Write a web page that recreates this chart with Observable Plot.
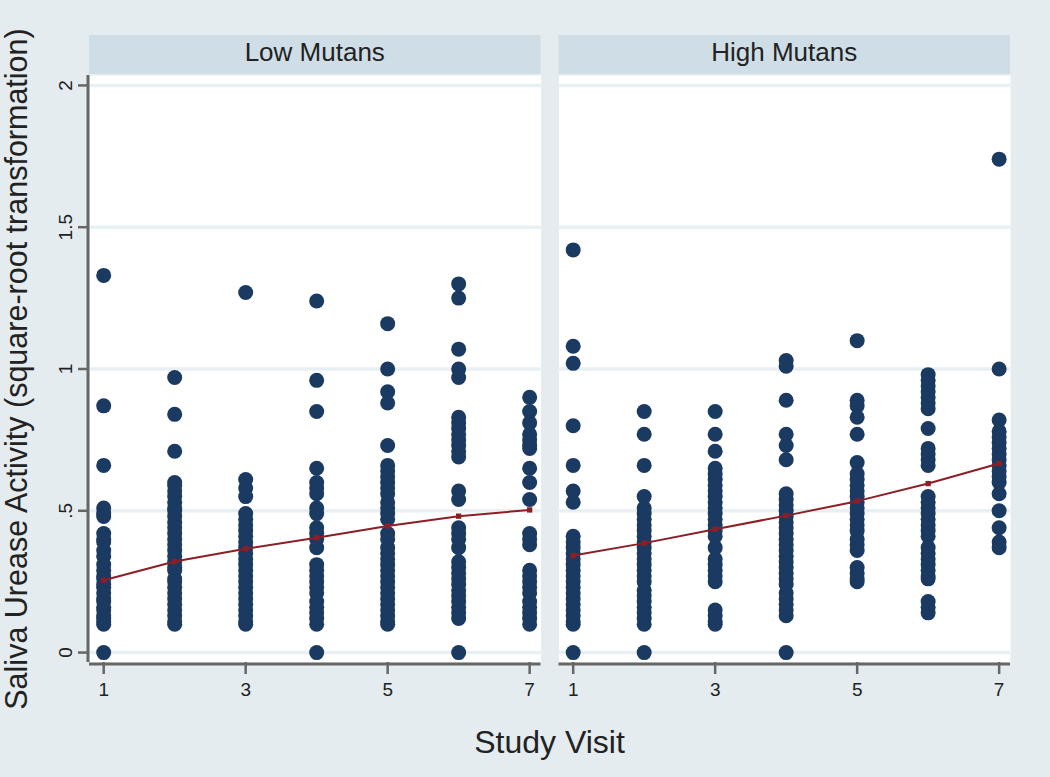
<!DOCTYPE html>
<html><head><meta charset="utf-8">
<script src="https://cdn.jsdelivr.net/npm/d3@7"></script>
<script src="https://cdn.jsdelivr.net/npm/@observablehq/plot@0.6"></script>
<style>
html,body{margin:0;padding:0;background:#e4ecef;}
#wrap{position:relative;width:1050px;height:777px;overflow:hidden;font-family:"Liberation Sans",Arial,sans-serif;}
#xlabel{position:absolute;left:89px;width:921px;top:722px;text-align:center;font-size:32px;color:#222;line-height:40px;}
</style></head><body><div id="wrap"><div id="xlabel">Study Visit</div></div>
<script>
const groups = ["Low Mutans", "High Mutans"];
const visits = [1, 2, 3, 4, 5, 6, 7];
const xTicks = [1, 3, 5, 7];
const yTicks = [0, 0.5, 1, 1.5, 2];
const yTitle = "Saliva Urease Activity (square-root transformation)";
const xTitle = "Study Visit";

const lowMutansValues = [
  [1.33, 0.87, 0.66, 0.51, 0.49, 0.48, 0.42, 0.40, 0.39, 0.36, 0.34, 0.31, 0.29, 0.27, 0.26, 0.24, 0.23, 0.21, 0.19, 0.18, 0.16, 0.15, 0.13, 0.12, 0.11, 0.10, 0],
  [0.97, 0.84, 0.71, 0.60, 0.59, 0.57, 0.55, 0.53, 0.51, 0.50, 0.48, 0.46, 0.44, 0.42, 0.40, 0.38, 0.36, 0.34, 0.32, 0.30, 0.29, 0.26, 0.25, 0.23, 0.21, 0.19, 0.17, 0.15, 0.13, 0.11, 0.10],
  [1.27, 0.61, 0.58, 0.55, 0.49, 0.47, 0.45, 0.43, 0.41, 0.39, 0.37, 0.35, 0.33, 0.31, 0.29, 0.27, 0.25, 0.23, 0.21, 0.19, 0.17, 0.15, 0.13, 0.11, 0.10],
  [1.24, 0.96, 0.85, 0.65, 0.60, 0.58, 0.56, 0.51, 0.49, 0.44, 0.42, 0.40, 0.37, 0.31, 0.29, 0.27, 0.25, 0.23, 0.21, 0.18, 0.16, 0.14, 0.12, 0.10, 0],
  [1.16, 1.00, 0.92, 0.88, 0.73, 0.66, 0.64, 0.62, 0.60, 0.58, 0.56, 0.53, 0.51, 0.49, 0.47, 0.42, 0.40, 0.37, 0.35, 0.33, 0.31, 0.29, 0.27, 0.25, 0.23, 0.21, 0.19, 0.17, 0.15, 0.13, 0.11, 0.10],
  [1.30, 1.25, 1.07, 1.00, 0.97, 0.83, 0.81, 0.79, 0.77, 0.75, 0.73, 0.71, 0.69, 0.57, 0.54, 0.44, 0.42, 0.40, 0.37, 0.32, 0.30, 0.28, 0.26, 0.24, 0.22, 0.20, 0.18, 0.16, 0.14, 0.12, 0],
  [0.90, 0.85, 0.81, 0.77, 0.75, 0.73, 0.72, 0.65, 0.60, 0.54, 0.42, 0.40, 0.38, 0.29, 0.27, 0.25, 0.23, 0.21, 0.18, 0.16, 0.14, 0.12, 0.10]
];
const highMutansValues = [
  [1.42, 1.08, 1.02, 0.80, 0.66, 0.57, 0.53, 0.41, 0.39, 0.37, 0.35, 0.33, 0.31, 0.29, 0.27, 0.25, 0.23, 0.21, 0.19, 0.17, 0.15, 0.13, 0.11, 0.10, 0],
  [0.85, 0.77, 0.66, 0.55, 0.51, 0.49, 0.47, 0.45, 0.43, 0.41, 0.39, 0.37, 0.35, 0.33, 0.31, 0.29, 0.27, 0.25, 0.22, 0.20, 0.18, 0.16, 0.14, 0.12, 0.10, 0],
  [0.85, 0.77, 0.71, 0.65, 0.63, 0.61, 0.59, 0.57, 0.55, 0.53, 0.51, 0.49, 0.47, 0.45, 0.43, 0.41, 0.37, 0.33, 0.31, 0.29, 0.27, 0.25, 0.15, 0.13, 0.11, 0.10],
  [1.03, 1.01, 0.89, 0.77, 0.73, 0.68, 0.56, 0.54, 0.52, 0.50, 0.48, 0.46, 0.44, 0.42, 0.40, 0.38, 0.36, 0.34, 0.32, 0.30, 0.28, 0.26, 0.24, 0.21, 0.19, 0.17, 0.15, 0.13, 0],
  [1.10, 0.89, 0.87, 0.83, 0.77, 0.67, 0.63, 0.61, 0.59, 0.57, 0.55, 0.53, 0.51, 0.49, 0.47, 0.45, 0.43, 0.40, 0.38, 0.36, 0.30, 0.28, 0.26, 0.25],
  [0.98, 0.96, 0.94, 0.92, 0.90, 0.88, 0.86, 0.79, 0.72, 0.70, 0.68, 0.66, 0.55, 0.53, 0.51, 0.49, 0.47, 0.45, 0.43, 0.41, 0.37, 0.35, 0.33, 0.31, 0.29, 0.27, 0.26, 0.18, 0.16, 0.14],
  [1.74, 1.00, 0.82, 0.78, 0.76, 0.74, 0.72, 0.70, 0.68, 0.66, 0.64, 0.62, 0.60, 0.56, 0.50, 0.44, 0.39, 0.37]
];
const lowMutansFit = [0.255, 0.321, 0.366, 0.405, 0.446, 0.481, 0.503];
const highMutansFit = [0.342, 0.386, 0.435, 0.483, 0.534, 0.596, 0.667];

const xDomain = [0.8, 7.16];
const yDomain = [-0.035, 2.035];

const seriesValues = [lowMutansValues, highMutansValues];
const seriesFit = [lowMutansFit, highMutansFit];
const points = [];
const fits = [];
groups.forEach((g, gi) => {
  visits.forEach((v, i) => {
    seriesValues[gi][i].forEach(val => points.push({group: g, visit: v, value: val}));
    fits.push({group: g, visit: v, value: seriesFit[gi][i]});
  });
});

const axisGrey = "#666666";
const dotColor = "#1b3a62";
const fitColor = "#8c1f25";
const fmt = d => d === 0 ? "0" : String(d).replace(/^0/, "");

const chart = Plot.plot({
  width: 1050, height: 715,
  marginLeft: 89, marginRight: 40, marginTop: 75, marginBottom: 53,
  style: {background: "transparent", fontFamily: "'Liberation Sans', Arial, sans-serif", color: "#222", overflow: "visible"},
  fx: {domain: groups, paddingInner: 0.0383, paddingOuter: 0, round: false, axis: null, label: null},
  x: {domain: xDomain, label: null},
  y: {domain: yDomain, label: null},
  marks: [
    Plot.frame({fill: "white", stroke: "none"}),
    Plot.gridY(yTicks, {stroke: "#e9f0f3", strokeOpacity: 1, strokeWidth: 3.5}),
    Plot.axisX(xTicks, {tickSize: 12, tickPadding: 8, fontSize: 19, stroke: axisGrey, strokeWidth: 2.5, fill: "#222", tickFormat: d => String(d), label: null}),
    Plot.axisY(yTicks, {tickSize: 11, tickPadding: 7, tickRotate: -90, fontSize: 19, stroke: axisGrey, strokeWidth: 2.5, fill: "#222", tickFormat: fmt, label: yTitle, labelAnchor: "center", labelOffset: 84, labelArrow: "none"}),
    Plot.ruleY([yDomain[0]], {stroke: axisGrey, strokeWidth: 3, dy: 1.5}),
    Plot.ruleX([{group: groups[0], x: xDomain[0]}], {x: "x", fx: "group", stroke: axisGrey, strokeWidth: 3, dx: -1.5}),
    Plot.dot(points, {x: "visit", y: "value", fx: "group", r: 7.5, fill: dotColor, stroke: "none"}),
    Plot.line(fits, {x: "visit", y: "value", fx: "group", stroke: fitColor, strokeWidth: 2}),
    Plot.dot(fits, {x: "visit", y: "value", fx: "group", symbol: "square", r: 3, fill: fitColor, stroke: "none"})
  ]
});

const svg = d3.select(chart);
svg.selectAll('[aria-label="y-axis tick label"], [aria-label="x-axis tick label"]').attr("font-size", 19).attr("fill", "#222");
svg.selectAll('[aria-label="y-axis tick label"] text, [aria-label="x-axis tick label"] text').attr("font-size", 19);
svg.selectAll('[aria-label="y-axis label"]').attr("font-size", 30.5).attr("fill", "#222");
svg.selectAll('[aria-label="y-axis label"] text').attr("font-size", 30.5);

// facet header strips, positioned from the fx scale
const fx = chart.scale("fx");
const hdr = svg.insert("g", ":first-child").attr("aria-label", "facet headers");
groups.forEach(name => {
  const x0 = fx.apply(name);
  hdr.append("rect").attr("x", x0).attr("y", 35).attr("width", fx.bandwidth).attr("height", 39).attr("fill", "#cfdee6");
  hdr.append("text").attr("x", x0 + fx.bandwidth / 2).attr("y", 61).attr("text-anchor", "middle")
    .attr("font-size", 26).attr("fill", "#222").text(name);
});

const wrap = document.getElementById("wrap");
wrap.insertBefore(chart, wrap.firstChild);
document.getElementById("xlabel").textContent = xTitle;
</script>
</body></html>
